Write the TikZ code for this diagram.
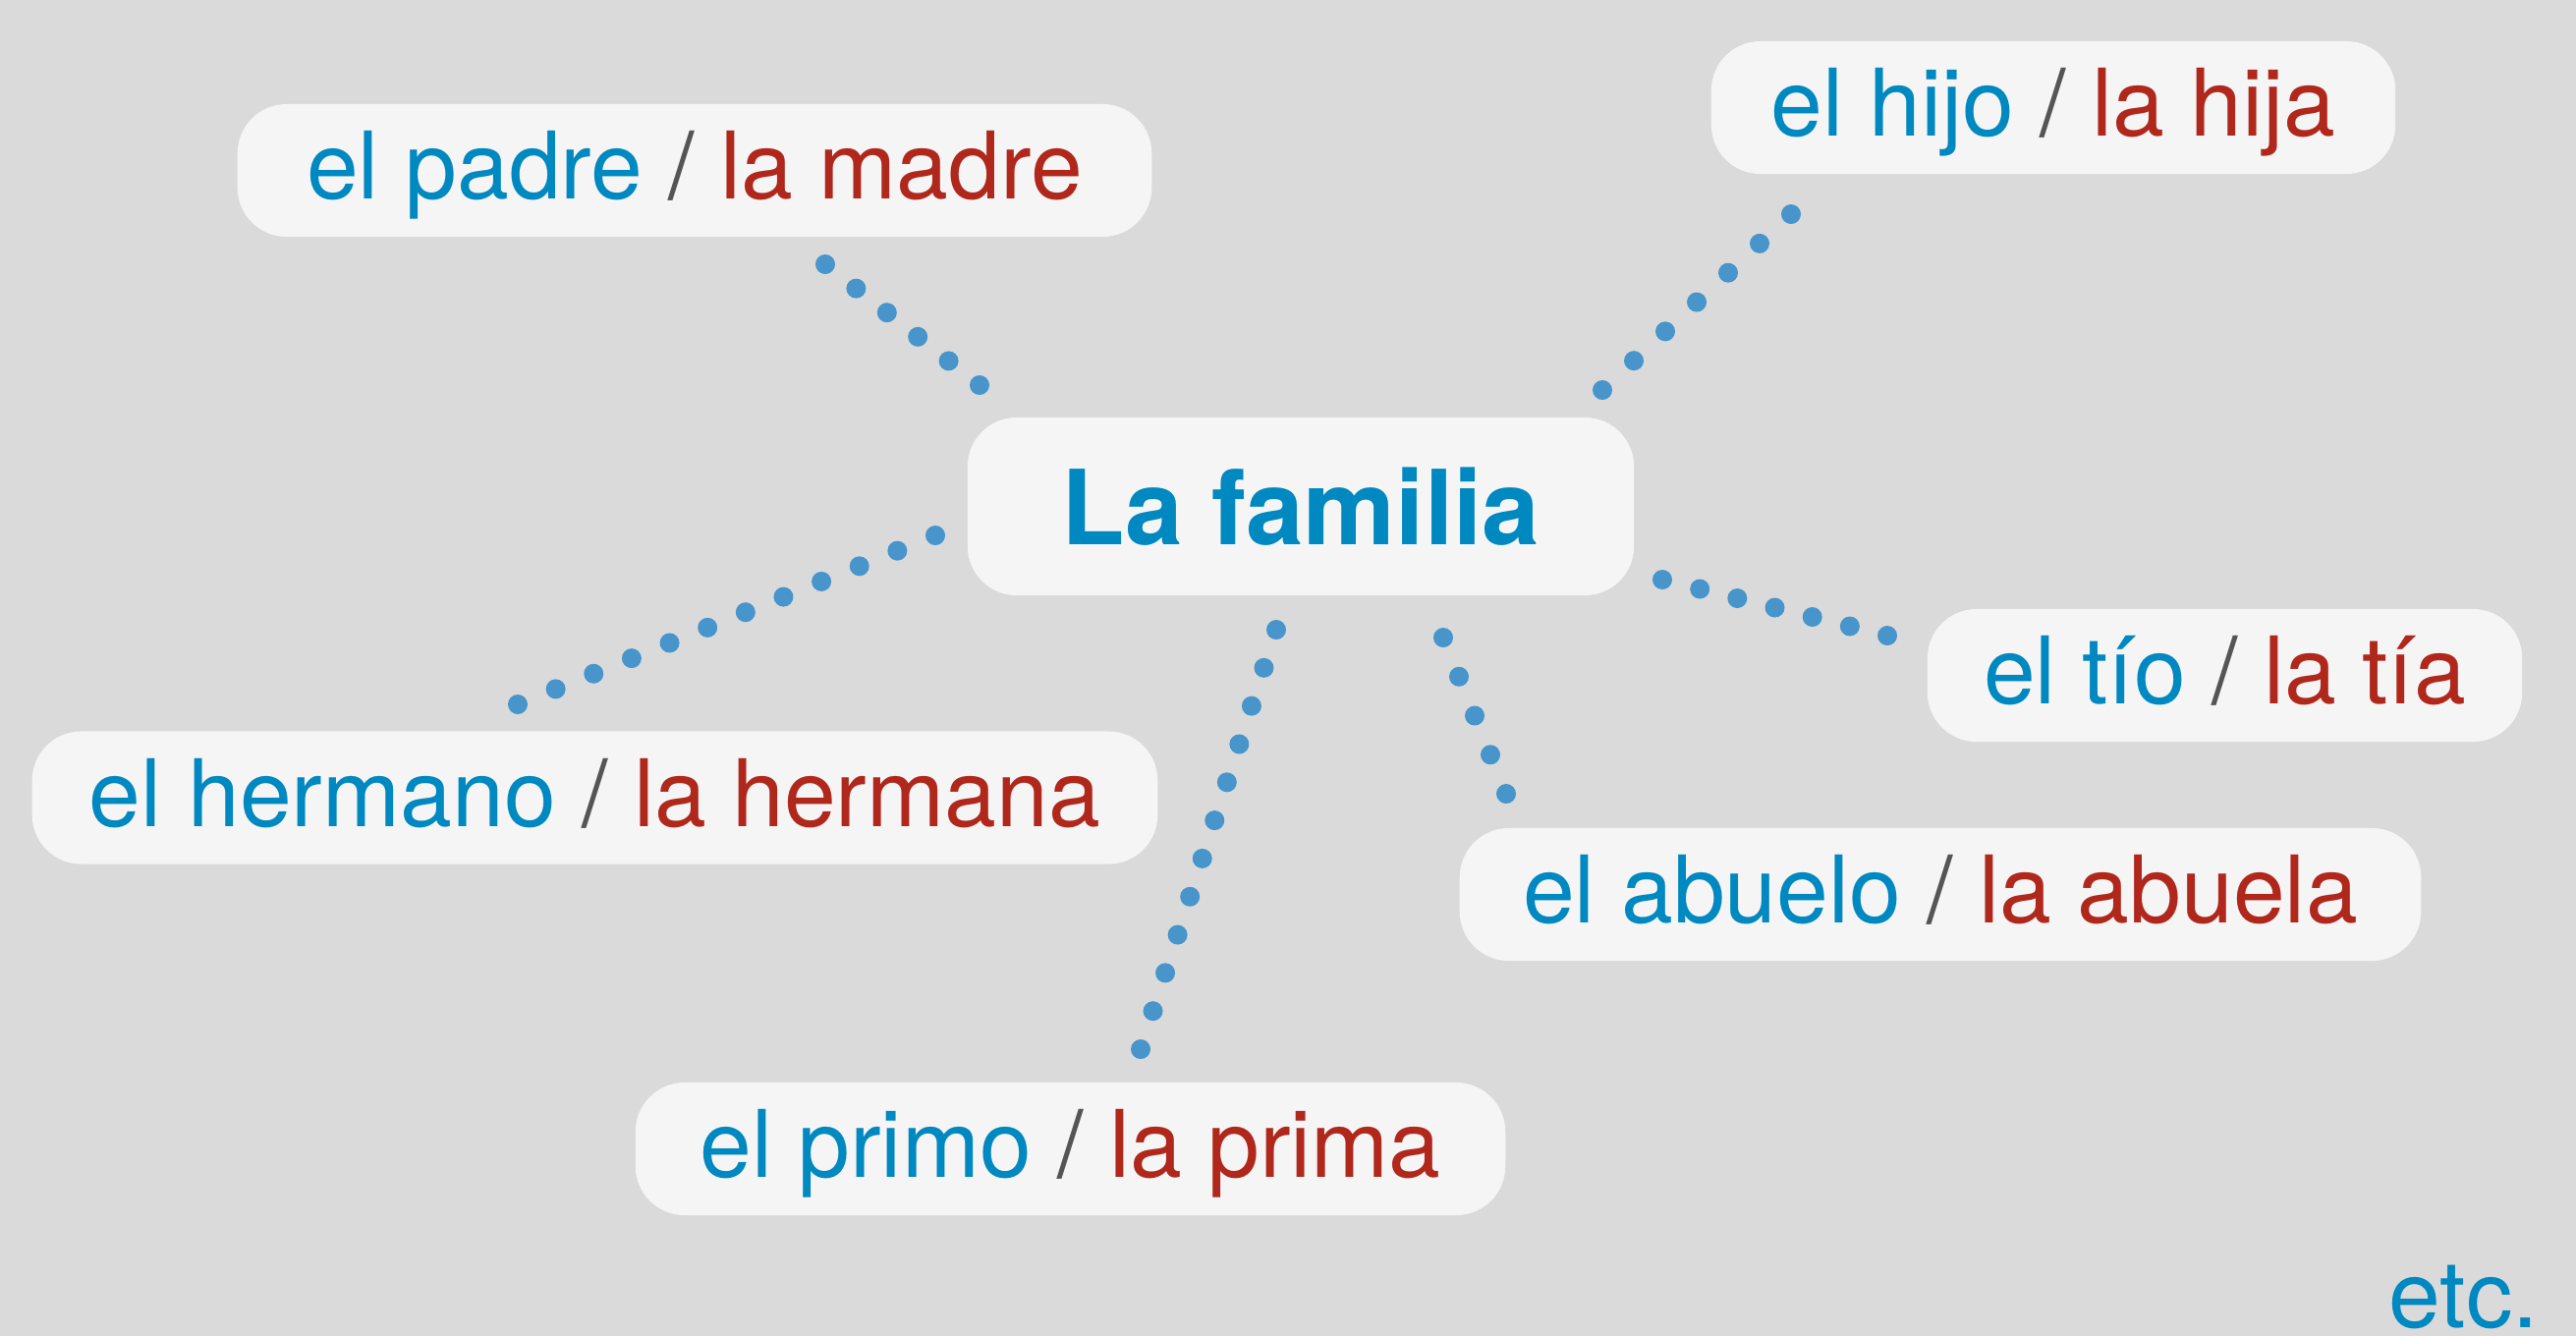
\documentclass[tikz,border=0pt]{standalone}
\usepackage{fontspec}
\setmainfont{TeX Gyre Heros}
\usetikzlibrary{calc}
\definecolor{bggray}{HTML}{DADADA}
\definecolor{boxfill}{HTML}{F5F5F5}
\definecolor{mblue}{HTML}{0088C1}
\definecolor{fred}{HTML}{B0281C}
\definecolor{slgray}{HTML}{555555}
\definecolor{dotblue}{HTML}{4795CB}
\newcommand\mas[1]{\textcolor{mblue}{#1}}
\newcommand\fem[1]{\textcolor{fred}{#1}}
\newcommand\slsh{\textcolor{slgray}{/}}
\begin{document}
\begin{tikzpicture}[x=0.01cm,y=-0.01cm,line join=round,line cap=round,
	word/.style={fill=boxfill,rounded corners=0.5cm,inner xsep=0.2cm,minimum height=1.35cm,
		text height=0.67cm,text depth=0.09cm,font=\fontsize{27}{27}\selectfont},
	dot/.style={fill=dotblue}]
	\fill[bggray] (-20,-20) rectangle (2642,1379);
	\node[fill=boxfill,rounded corners=0.5cm,minimum width=6.78cm,minimum height=1.81cm,
		text height=0.77cm,text depth=0pt,text=mblue,font=\fontsize{30}{30}\bfseries\selectfont] (fam) at (1324,515.5) {La familia};
	\node[word,minimum width=9.30cm] (padre) at (707,173.5) {\mas{el padre} \slsh{} \fem{la madre}};
	\node[word,minimum width=6.96cm] (hijo) at (2090,109.5) {\mas{el hijo} \slsh{} \fem{la hija}};
	\node[word,minimum width=6.05cm] (tio) at (2264.5,687.5) {\mas{el tío} \slsh{} \fem{la tía}};
	\node[word,minimum width=9.78cm] (abuelo) at (1975,910.5) {\mas{el abuelo} \slsh{} \fem{la abuela}};
	\node[word,minimum width=11.45cm] (hermano) at (605.5,812) {\mas{el hermano} \slsh{} \fem{la hermana}};
	\node[word,minimum width=8.85cm] (primo) at (1089.5,1169.5) {\mas{el primo} \slsh{} \fem{la prima}};
	\node[anchor=base west,inner sep=0pt,text=mblue,font=\fontsize{27}{27}\selectfont] (etc) at (2431,1351) {etc.};
	% ends of the dotted lines
	\path
	(997,392) coordinate (padre-in) (840,269) coordinate (padre-out)
	(1631,397) coordinate (hijo-in) (1823,218) coordinate (hijo-out)
	(1692,590) coordinate (tio-in) (1921,647) coordinate (tio-out)
	(1469,649) coordinate (abuelo-in) (1533,808) coordinate (abuelo-out)
	(1299,641) coordinate (primo-in) (1161,1068) coordinate (primo-out)
	(952,545) coordinate (hermano-in) (527,717) coordinate (hermano-out)
	;
	\foreach \w/\n in {padre/5,hijo/6,tio/6,abuelo/4,primo/11,hermano/11}
		\foreach \i in {0,...,\n}\fill[dot] ($(\w-in)!\i/\n!(\w-out)$) circle (10);
	\pgfresetboundingbox
	\useasboundingbox (0,0) rectangle (2622,1359);
\end{tikzpicture}
\end{document}
